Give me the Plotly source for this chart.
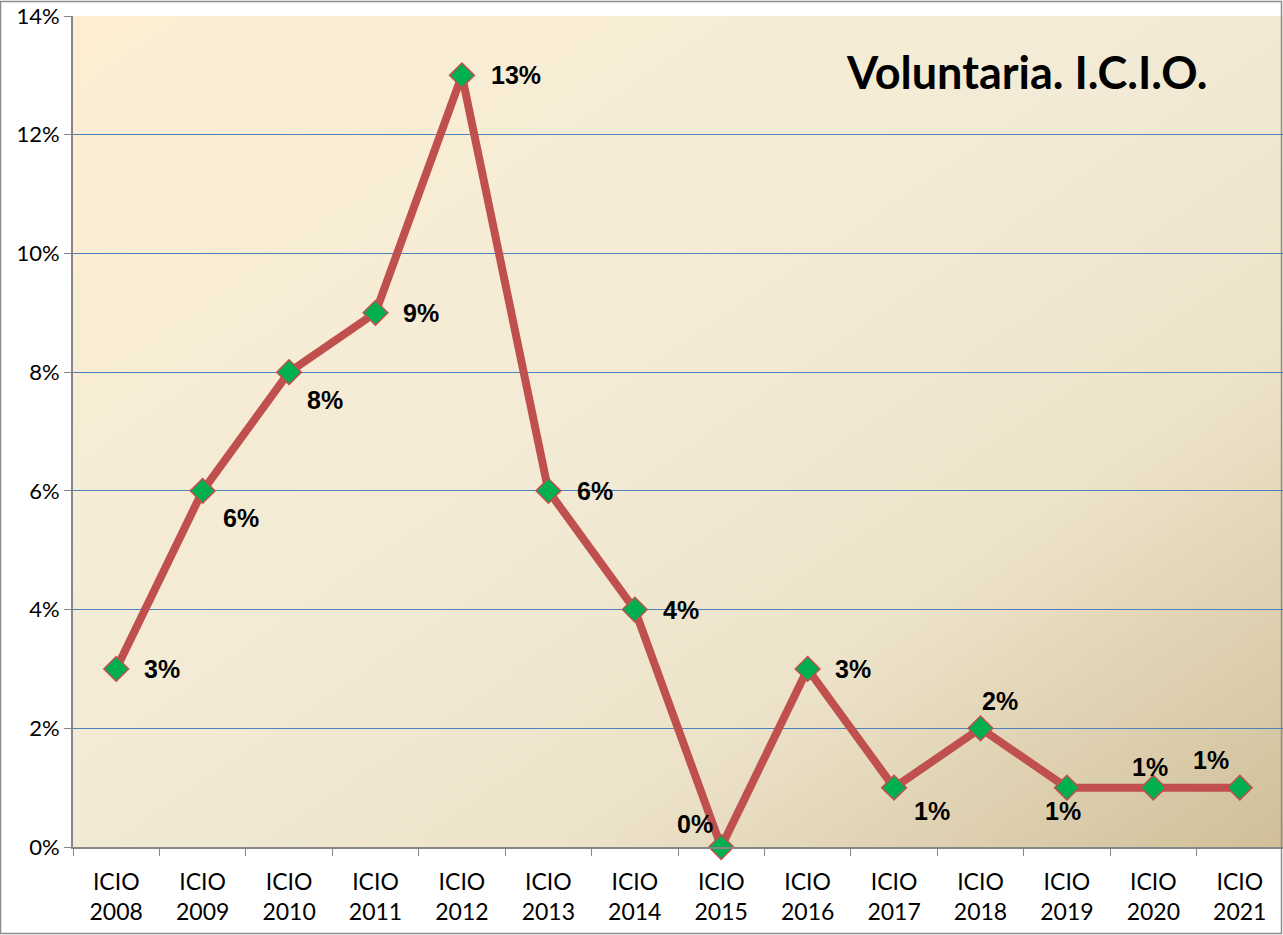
import plotly.graph_objects as go
import base64

categories = ["ICIO 2008", "ICIO 2009", "ICIO 2010", "ICIO 2011", "ICIO 2012", "ICIO 2013",
              "ICIO 2014", "ICIO 2015", "ICIO 2016", "ICIO 2017", "ICIO 2018", "ICIO 2019",
              "ICIO 2020", "ICIO 2021"]
values = [0.03, 0.06, 0.08, 0.09, 0.13, 0.06, 0.04, 0.00, 0.03, 0.01, 0.02, 0.01, 0.01, 0.01]
labels = ["3%", "6%", "8%", "9%", "13%", "6%", "4%", "0%", "3%", "1%", "2%", "1%", "1%", "1%"]
tick_vals = [0, 0.02, 0.04, 0.06, 0.08, 0.10, 0.12, 0.14]
tick_text = ["0%", "2%", "4%", "6%", "8%", "10%", "12%", "14%"]

# label offsets in pixels (style)
label_dx = [46, 38, 36, 45, 54, 47, 46, -26, 45, 38, 19, -4, -3, -29]
label_dy = [0, -27, -28, 0, 0, 0, 0, 23, 0, -23, 27, -23, 21, 28]

x_text = [c.replace(" ", "<br>") for c in categories]

svg = """<svg xmlns='http://www.w3.org/2000/svg' width='1210' height='831' viewBox='0 0 1210 831' preserveAspectRatio='none'>
<defs><linearGradient id='g' x1='0' y1='0' x2='1' y2='1'>
<stop offset='0' stop-color='#FDEED3'/>
<stop offset='0.45' stop-color='#F3EBD6'/>
<stop offset='0.7' stop-color='#EDE3CA'/>
<stop offset='1' stop-color='#D0BF99'/>
</linearGradient></defs>
<rect x='0' y='0' width='1210' height='831' fill='url(#g)'/></svg>"""
bg = "data:image/svg+xml;base64," + base64.b64encode(svg.encode()).decode()

fig = go.Figure()
fig.add_trace(go.Scatter(
    x=x_text, y=values, mode="lines+markers",
    line=dict(color="#C0504D", width=8),
    marker=dict(symbol="diamond", size=19, color="#00B050",
                line=dict(color="#C0504D", width=1.5)),
    cliponaxis=False,
    hoverinfo="skip", showlegend=False,
))

for xv, yv, t, dx, dy in zip(x_text, values, labels, label_dx, label_dy):
    fig.add_annotation(x=xv, y=yv, text="<b>" + t + "</b>", showarrow=False, xshift=dx, yshift=dy,
                       font=dict(family="Liberation Sans", size=25, color="black"),
                       xanchor="center", yanchor="middle")

fig.add_annotation(xref="paper", yref="paper", x=(1209 - 73) / 1210, y=1 - (72 - 16) / 831,
                   text="<b>Voluntaria. I.C.I.O.</b>",
                   showarrow=False, xanchor="right", yanchor="middle",
                   font=dict(family="Lato", size=45, color="black"))

# outer frame
W, H = 1210.0, 831.0
fig.add_shape(type="rect", xref="paper", yref="paper",
              x0=-72.5 / W, x1=1 + -1.5 / W, y0=-86.5 / H, y1=1 + 14.5 / H,
              line=dict(color="#8C8C8C", width=1.5), layer="below")

fig.update_layout(
    width=1283, height=935,
    margin=dict(l=73, r=0, t=16, b=88),
    paper_bgcolor="white", plot_bgcolor="rgba(0,0,0,0)",
    images=[dict(source=bg, xref="paper", yref="paper", x=0, y=1, sizex=1, sizey=1,
                 sizing="stretch", layer="below", xanchor="left", yanchor="top")],
)
fig.update_xaxes(type="category", tickson="boundaries", ticks="outside", ticklen=7,
                 tickcolor="#868686", showline=True, linecolor="#868686", linewidth=2,
                 showgrid=False, tickfont=dict(family="Lato", size=23, color="black"),
                 ticklabelstandoff=13, range=[-0.5, 13.5])
fig.update_yaxes(range=[0, 0.14], tickvals=tick_vals, ticktext=tick_text, ticks="outside",
                 ticklen=7, tickcolor="#868686", showline=True, linecolor="#868686", linewidth=2,
                 showgrid=True, gridcolor="#4F81BD", gridwidth=1.3, zeroline=False,
                 tickfont=dict(family="Lato", size=22, color="black"))

fig.write_html("out.html", config={"displayModeBar": False},
               post_script="document.body.style.margin='0';")
